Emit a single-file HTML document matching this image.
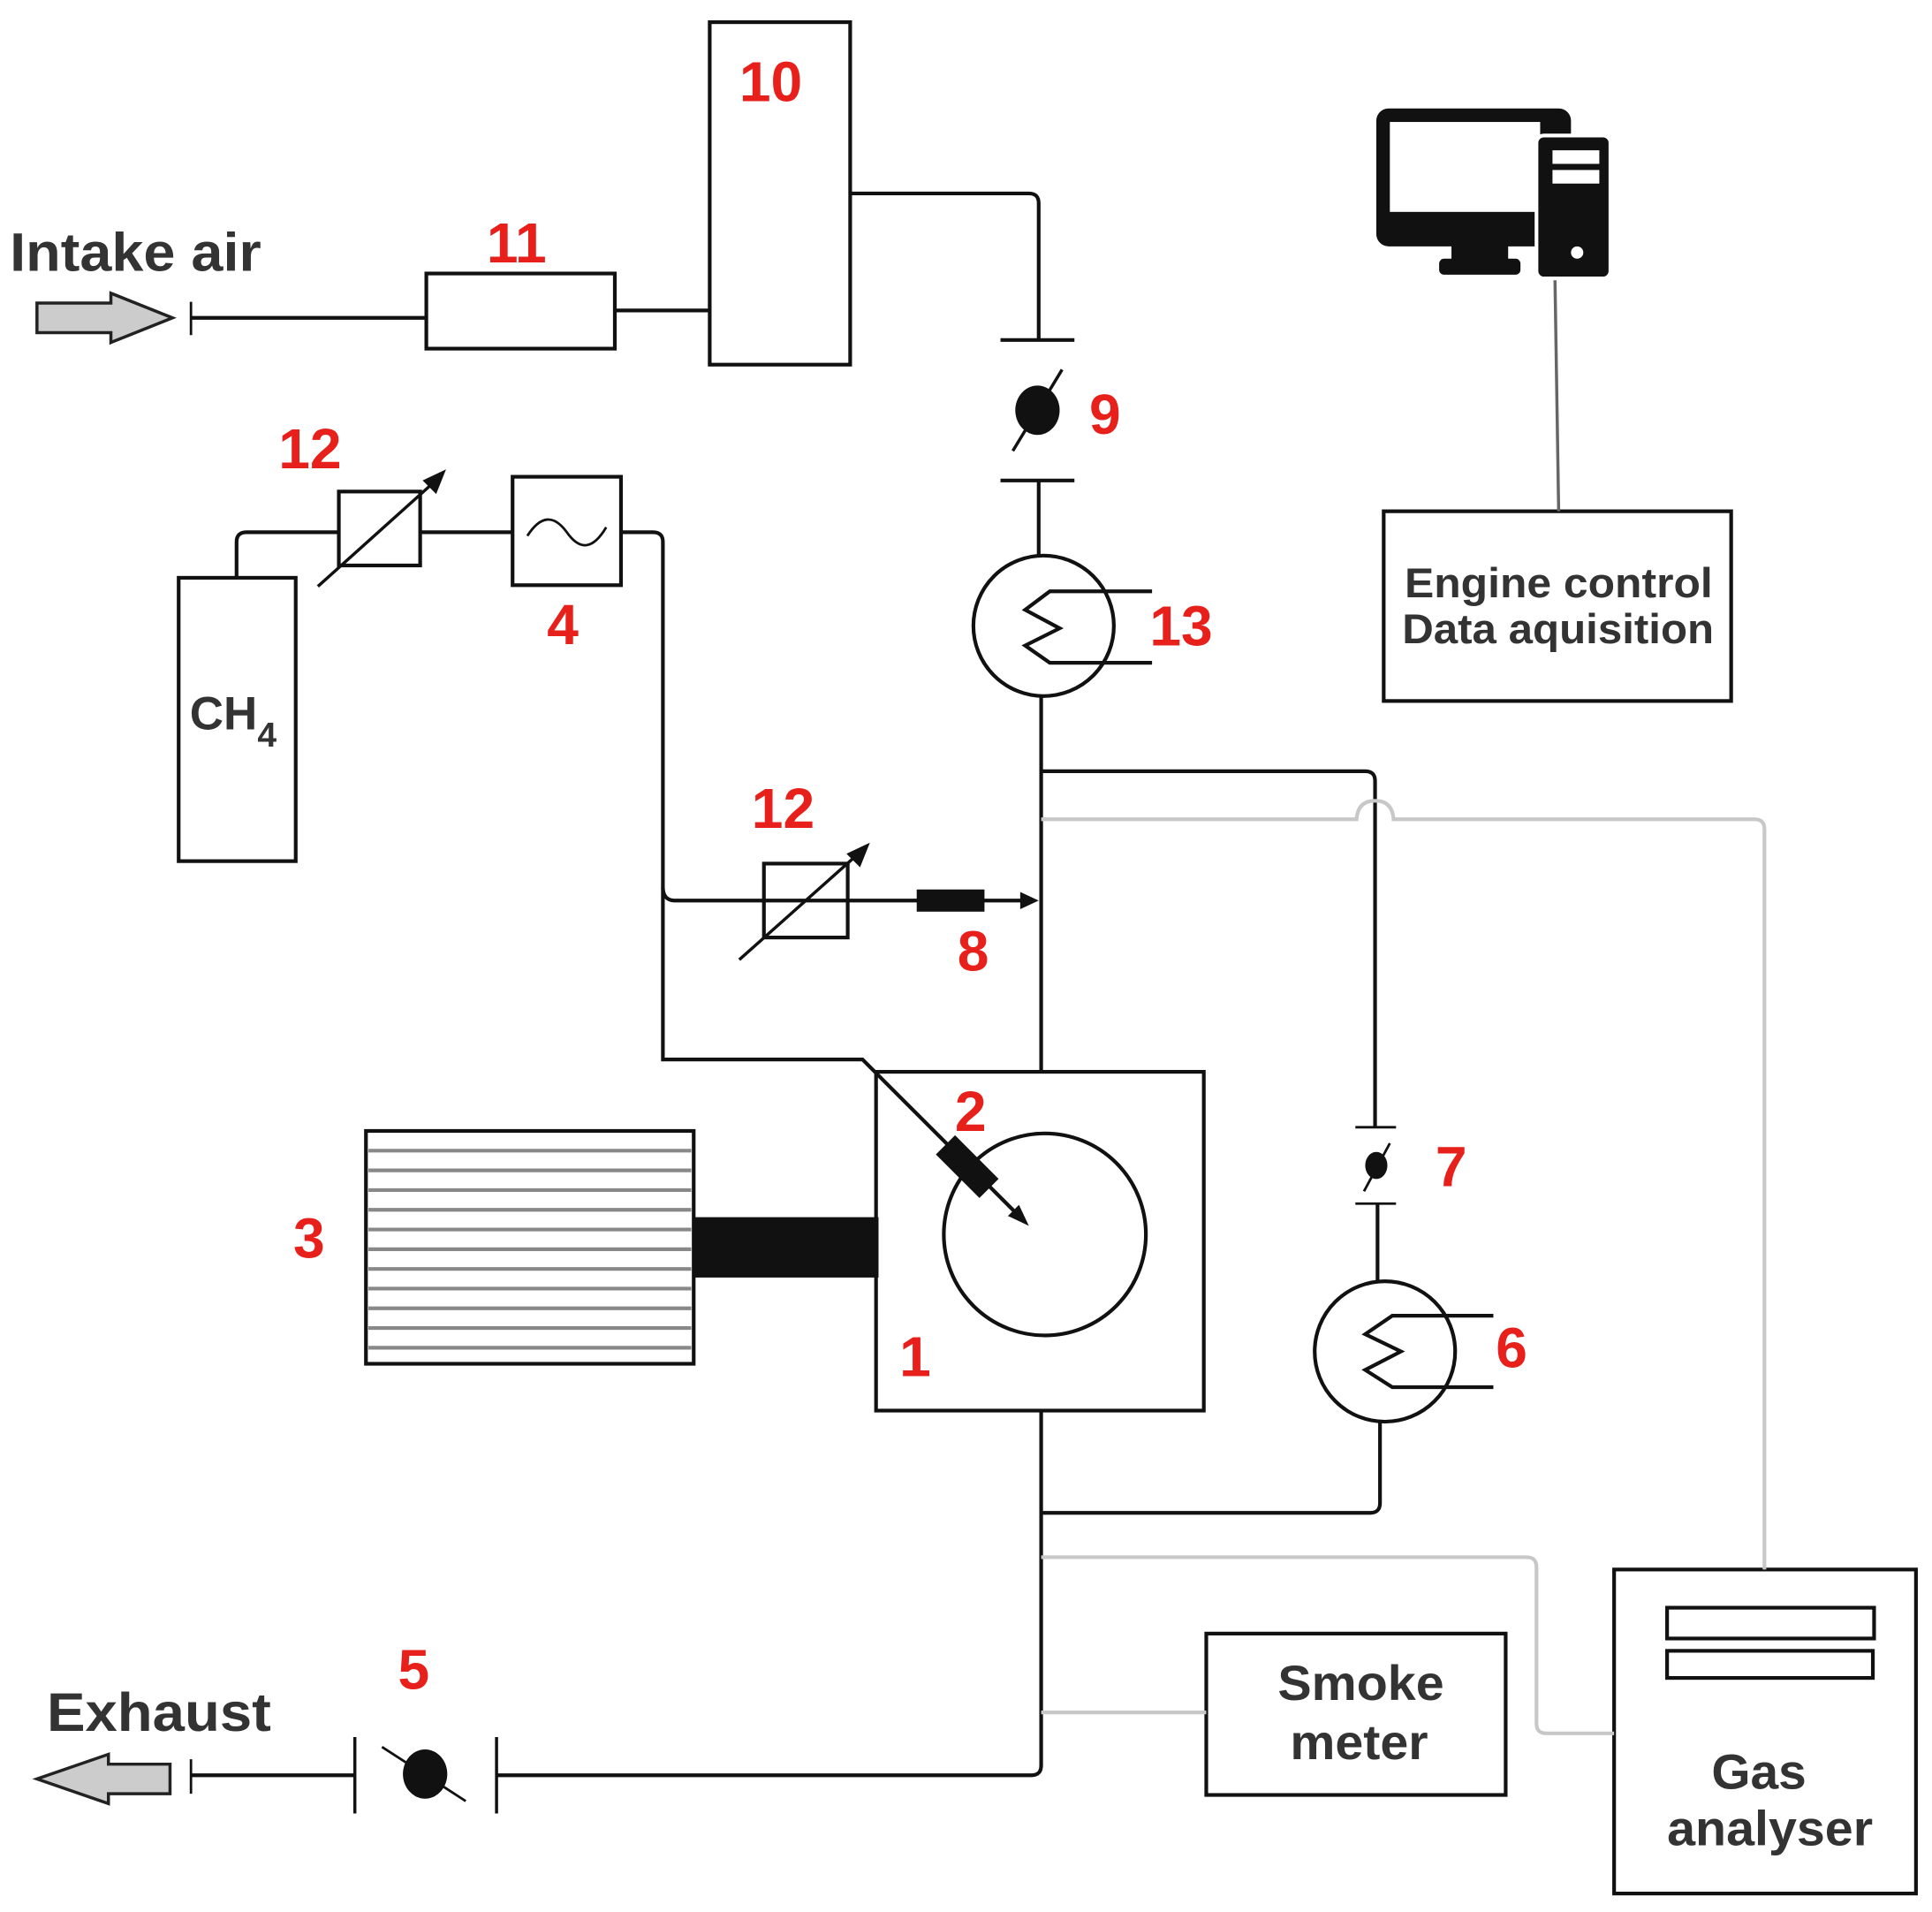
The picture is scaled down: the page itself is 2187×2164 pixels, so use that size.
<!DOCTYPE html>
<html><head><meta charset="utf-8"><style>
html,body{margin:0;padding:0;background:#fff}
svg{display:block}
.r{fill:#e8201c;font-family:"Liberation Sans",sans-serif;font-weight:bold;font-size:46px}
.t{fill:#333;font-family:"Liberation Sans",sans-serif;font-weight:bold}
</style></head><body>
<svg width="2187" height="2164" viewBox="0 0 1568 1552" preserveAspectRatio="none" xmlns="http://www.w3.org/2000/svg">
<g fill="none" stroke="#111" stroke-width="3">
<rect x="576" y="18" width="114" height="278"/>
<rect x="346" y="222" width="153" height="61"/>
<line x1="155" y1="258" x2="346" y2="258"/>
<line x1="155" y1="245" x2="155" y2="272" stroke-width="2"/>
<line x1="499" y1="252" x2="576" y2="252"/>
<path d="M690 157 H835 Q843 157 843 165 V276"/>
<line x1="812" y1="276" x2="872" y2="276"/>
<line x1="812" y1="390" x2="872" y2="390"/>
<line x1="822" y1="366" x2="862" y2="300" stroke-width="2.5"/>
<line x1="843" y1="390" x2="843" y2="451"/>
<circle cx="847" cy="508" r="57"/>
<path d="M935 480 H852 L832 495 L860 510 L832 524 L852 538 H935"/>
<line x1="845" y1="565" x2="845" y2="870"/>
<path d="M845 626 H1108 Q1116 626 1116 634 V915"/>
<rect x="145" y="469" width="95" height="230"/>
<path d="M192 469 V440 Q192 432 200 432 H275"/>
<rect x="275" y="399" width="66" height="60"/>
<line x1="341" y1="432" x2="416" y2="432"/>
<rect x="416" y="387" width="88" height="88"/>
<path d="M428 435 Q444 410 460 432 Q476 455 492 428" stroke-width="2"/>
<path d="M504 432 H530 Q538 432 538 440 V860 H700 L828 988"/>
<path d="M538 720 Q538 731 548 731 H835"/>
<rect x="620" y="701" width="68" height="60"/>
<rect x="711" y="870" width="266" height="275"/>
<circle cx="848" cy="1002" r="82"/>
<rect x="297" y="918" width="266" height="189"/>
<line x1="1100" y1="915" x2="1133" y2="915" stroke-width="2"/>
<line x1="1100" y1="977" x2="1133" y2="977" stroke-width="2"/>
<line x1="1107" y1="967" x2="1128" y2="928" stroke-width="2"/>
<line x1="1118" y1="977" x2="1118" y2="1040"/>
<circle cx="1124" cy="1097" r="57"/>
<path d="M1212 1068 H1130 L1108 1083 L1137 1097 L1108 1112 L1130 1126 H1212"/>
<path d="M1120 1154 V1220 Q1120 1228 1112 1228 H845"/>
<path d="M845 1145 V1433 Q845 1441 837 1441 H403"/>
<line x1="155" y1="1441" x2="288" y2="1441"/>
<line x1="155" y1="1428" x2="155" y2="1456" stroke-width="2"/>
<line x1="288" y1="1410" x2="288" y2="1472" stroke-width="2.5"/>
<line x1="403" y1="1410" x2="403" y2="1472" stroke-width="2.5"/>
<line x1="310" y1="1418" x2="378" y2="1462" stroke-width="2"/>
<rect x="979" y="1326" width="243" height="131"/>
<rect x="1310" y="1274" width="245" height="263"/>
<rect x="1353" y="1305" width="168" height="25"/>
<rect x="1353" y="1340" width="167" height="22"/>
<rect x="1123" y="415" width="282" height="154"/>
</g>
<g stroke="#111" stroke-width="2.5">
<line x1="258" y1="476" x2="356" y2="388"/>
<line x1="600" y1="779" x2="700" y2="690"/>
</g>
<g fill="#111">
<polygon points="362,381 343,390 354,401"/>
<polygon points="706,684 687,693 698,704"/>
<polygon points="843,731 828,724 828,738"/>
<polygon points="835,995 818,987 827,978"/>
<rect x="744" y="722" width="55" height="18"/>
<rect x="563" y="988" width="150" height="49"/>
<rect x="760" y="936" width="50" height="22" transform="rotate(45 785 947)"/>
<ellipse cx="842" cy="333" rx="18" ry="20"/>
<ellipse cx="1117" cy="946" rx="9" ry="11"/>
<ellipse cx="345" cy="1440" rx="18" ry="20"/>
</g>
<g stroke="#888" stroke-width="3">
<line x1="299" y1="934" x2="561" y2="934"/><line x1="299" y1="950" x2="561" y2="950"/>
<line x1="299" y1="966" x2="561" y2="966"/><line x1="299" y1="982" x2="561" y2="982"/>
<line x1="299" y1="998" x2="561" y2="998"/><line x1="299" y1="1014" x2="561" y2="1014"/>
<line x1="299" y1="1030" x2="561" y2="1030"/><line x1="299" y1="1046" x2="561" y2="1046"/>
<line x1="299" y1="1062" x2="561" y2="1062"/><line x1="299" y1="1078" x2="561" y2="1078"/>
<line x1="299" y1="1094" x2="561" y2="1094"/>
</g>
<g fill="none" stroke="#c8c8c8" stroke-width="3">
<path d="M845 665 H1101 Q1102 650 1116 650 Q1130 650 1131 665 H1424 Q1432 665 1432 673 V1274"/>
<path d="M845 1264 H1239 Q1247 1264 1247 1272 V1399 Q1247 1407 1255 1407 H1310"/>
<line x1="845" y1="1390" x2="979" y2="1390"/>
</g>
<line x1="1262" y1="226" x2="1265" y2="415" stroke="#666" stroke-width="2.5"/>
<rect x="1117" y="88" width="158" height="112" rx="10" fill="#111"/>
<rect x="1128" y="99" width="122" height="73" fill="#fff"/>
<rect x="1178" y="198" width="46" height="14" fill="#111"/>
<rect x="1168" y="210" width="66" height="13" rx="4" fill="#111"/>
<rect x="1247" y="110" width="60" height="116" rx="6" fill="#111" stroke="#fff" stroke-width="3"/>
<rect x="1260" y="122" width="38" height="11" fill="#fff"/>
<rect x="1260" y="138" width="38" height="11" fill="#fff"/>
<circle cx="1280" cy="205" r="5" fill="#fff"/>
<polygon points="30,246 90,246 90,238 140,258 90,278 90,270 30,270" fill="#ccc" stroke="#222" stroke-width="2.5"/>
<polygon points="138,1432 88,1432 88,1424 30,1444 88,1464 88,1456 138,1456" fill="#ccc" stroke="#222" stroke-width="2.5"/>
<text class="t" x="8" y="220" font-size="44" textLength="204" lengthAdjust="spacingAndGlyphs">Intake air</text>
<text class="t" x="38" y="1405" font-size="44" textLength="182" lengthAdjust="spacingAndGlyphs">Exhaust</text>
<text class="t" x="154" y="592" font-size="38">CH<tspan font-size="28" dy="14">4</tspan></text>
<text class="t" x="1140" y="485" font-size="34" textLength="250" lengthAdjust="spacingAndGlyphs">Engine control</text>
<text class="t" x="1138" y="522" font-size="34" textLength="253" lengthAdjust="spacingAndGlyphs">Data aquisition</text>
<text class="t" x="1037" y="1380" font-size="40" textLength="135" lengthAdjust="spacingAndGlyphs">Smoke</text>
<text class="t" x="1047" y="1428" font-size="40" textLength="112" lengthAdjust="spacingAndGlyphs">meter</text>
<text class="t" x="1389" y="1452" font-size="40" textLength="77" lengthAdjust="spacingAndGlyphs">Gas</text>
<text class="t" x="1353" y="1498" font-size="40" textLength="167" lengthAdjust="spacingAndGlyphs">analyser</text>
<text class="r" x="600" y="82">10</text>
<text class="r" x="395" y="213">11</text>
<text class="r" x="884" y="352">9</text>
<text class="r" x="226" y="380">12</text>
<text class="r" x="444" y="523">4</text>
<text class="r" x="933" y="524">13</text>
<text class="r" x="610" y="672">12</text>
<text class="r" x="777" y="788">8</text>
<text class="r" x="775" y="918">2</text>
<text class="r" x="1165" y="963">7</text>
<text class="r" x="238" y="1021">3</text>
<text class="r" x="1214" y="1110">6</text>
<text class="r" x="730" y="1117">1</text>
<text class="r" x="323" y="1371">5</text>
</svg>
</body></html>
